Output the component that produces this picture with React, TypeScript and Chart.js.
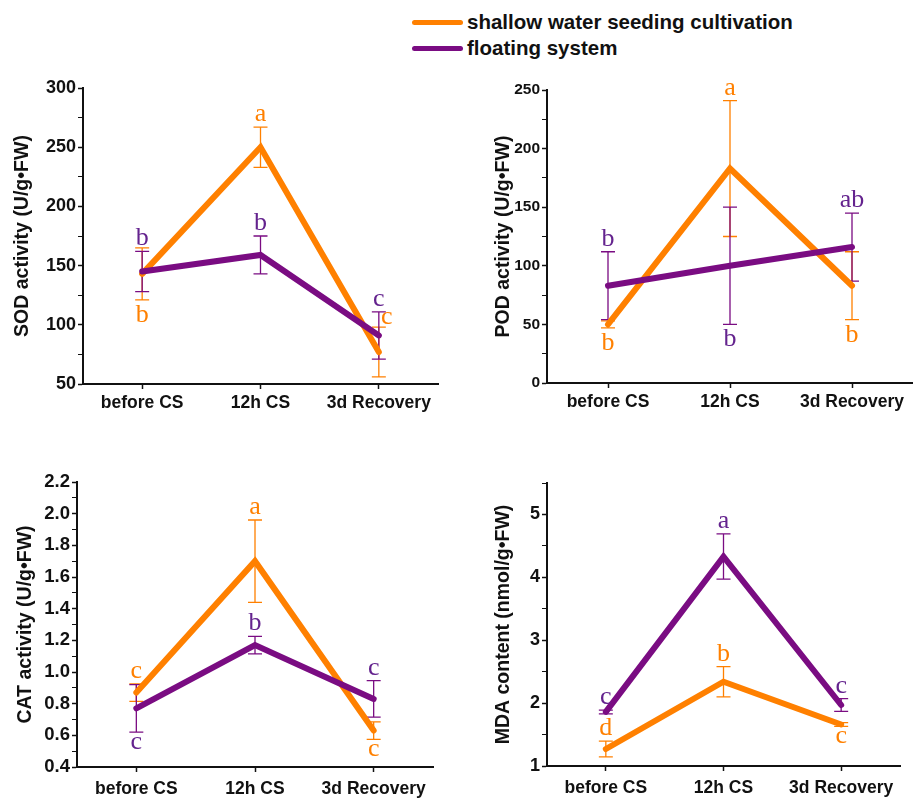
import React, { useEffect, useRef } from 'react';
import { Chart, registerables } from 'chart.js';

Chart.register(...registerables);

// ---- shared categories and series names ----
const categories = ['before CS', '12h CS', '3d Recovery'];
const seriesNames = ['shallow water seeding cultivation', 'floating system'];

// ---- SOD activity (U/g•FW) ----
const sodShallow = [143, 250, 77];
const sodShallowErr = [22, 17, 21];
const sodFloating = [145, 159, 91];
const sodFloatingErr = [17, 16, 20];
const sodShallowLetters = ['b', 'a', 'c'];
const sodFloatingLetters = ['b', 'b', 'c'];
const sodTickLabels = [50, 100, 150, 200, 250, 300];

// ---- POD activity (U/g•FW) ----
const podShallow = [50, 183, 83];
const podShallowErr = [3, 58, 29];
const podFloating = [83, 100, 116];
const podFloatingErr = [29, 50, 29];
const podShallowLetters = ['b', 'a', 'b'];
const podFloatingLetters = ['b', 'b', 'ab'];
const podTickLabels = [0, 50, 100, 150, 200, 250];

// ---- CAT activity (U/g•FW) ----
const catShallow = [0.87, 1.7, 0.63];
const catShallowErr = [0.055, 0.26, 0.055];
const catFloating = [0.77, 1.17, 0.83];
const catFloatingErr = [0.15, 0.055, 0.115];
const catShallowLetters = ['c', 'a', 'c'];
const catFloatingLetters = ['c', 'b', 'c'];
const catTickLabels = [0.4, 0.6, 0.8, 1.0, 1.2, 1.4, 1.6, 1.8, 2.0, 2.2];

// ---- MDA content (nmol/g•FW) ----
const mdaShallow = [1.27, 2.34, 1.66];
const mdaShallowErr = [0.125, 0.24, 0.03];
const mdaFloating = [1.86, 4.33, 1.97];
const mdaFloatingErr = [0.03, 0.36, 0.1];
const mdaShallowLetters = ['d', 'b', 'c'];
const mdaFloatingLetters = ['c', 'a', 'c'];
const mdaTickLabels = [1, 2, 3, 4, 5];

const ORANGE = '#FF8000';
const PURPLE = '#7A0C82';
const PURPLE_TEXT = '#64238E';
const SANS = '"Liberation Sans", Arial, sans-serif';
const SERIF = '"Liberation Serif", "Times New Roman", serif';

// Vertical error bars with caps, drawn beneath the lines.
const errorBarPlugin = {
  id: 'errorBars',
  beforeDatasetsDraw(chart: any) {
    const { ctx } = chart;
    const yScale = chart.scales.y;
    chart.data.datasets.forEach((ds: any, i: number) => {
      const errs: number[] | undefined = ds.errors;
      if (!errs) return;
      const meta = chart.getDatasetMeta(i);
      ctx.save();
      ctx.strokeStyle = ds.errorColor;
      ctx.lineWidth = 1.3;
      meta.data.forEach((pt: any, j: number) => {
        const v = ds.data[j];
        const e = errs[j];
        const x = pt.x;
        const yTop = yScale.getPixelForValue(v + e);
        const yBot = yScale.getPixelForValue(v - e);
        ctx.beginPath();
        ctx.moveTo(x, yTop);
        ctx.lineTo(x, yBot);
        ctx.moveTo(x - 7, yTop);
        ctx.lineTo(x + 7, yTop);
        ctx.moveTo(x - 7, yBot);
        ctx.lineTo(x + 7, yBot);
        ctx.stroke();
      });
      ctx.restore();
    });
  },
};

// Significance letters placed at the ends of the error bars.
const letterPlugin = {
  id: 'sigLetters',
  afterDatasetsDraw(chart: any) {
    const { ctx } = chart;
    const yScale = chart.scales.y;
    chart.data.datasets.forEach((ds: any, i: number) => {
      const letters: string[] | undefined = ds.letters;
      if (!letters) return;
      const sides: string[] = ds.letterSides;
      const meta = chart.getDatasetMeta(i);
      ctx.save();
      ctx.font = `26px ${SERIF}`;
      ctx.fillStyle = ds.letterColor;
      ctx.textAlign = 'center';
      ctx.textBaseline = 'alphabetic';
      meta.data.forEach((pt: any, j: number) => {
        const txt = letters[j];
        const v = ds.data[j];
        const e = ds.errors ? ds.errors[j] : 0;
        const x = pt.x;
        const yTop = yScale.getPixelForValue(v + e);
        const yBot = yScale.getPixelForValue(v - e);
        const side = sides[j];
        if (side === 'below') {
          const m = ctx.measureText(txt);
          ctx.fillText(txt, x, yBot + 5 + m.actualBoundingBoxAscent);
        } else if (side === 'right') {
          ctx.fillText(txt, x + 8, yTop - 3);
        } else {
          ctx.fillText(txt, x, yTop - 6);
        }
      });
      ctx.restore();
    });
  },
};

interface PanelSpec {
  title: string;
  shallow: number[];
  shallowErr: number[];
  shallowLetters: string[];
  shallowSides: string[];
  floating: number[];
  floatingErr: number[];
  floatingLetters: string[];
  floatingSides: string[];
  tickLabels: number[];
  yMax: number;
  minorStep: number;
  decimals: number;
  tickSize: number;
  padTop: number;
  padRight: number;
  yWidth: number;
  xHeight: number;
  titlePad: number;
  xLabelPad: number;
}

function buildConfig(p: PanelSpec): any {
  const isLabeled = (v: number) =>
    p.tickLabels.some((t) => Math.abs(t - v) < 1e-6);
  return {
    type: 'line',
    data: {
      labels: categories,
      datasets: [
        {
          label: seriesNames[0],
          data: p.shallow,
          errors: p.shallowErr,
          letters: p.shallowLetters,
          letterSides: p.shallowSides,
          borderColor: ORANGE,
          backgroundColor: ORANGE,
          errorColor: ORANGE,
          letterColor: ORANGE,
          borderWidth: 6,
          borderCapStyle: 'round',
          borderJoinStyle: 'miter',
          pointRadius: 0,
          tension: 0,
          order: 2,
        },
        {
          label: seriesNames[1],
          data: p.floating,
          errors: p.floatingErr,
          letters: p.floatingLetters,
          letterSides: p.floatingSides,
          borderColor: PURPLE,
          backgroundColor: PURPLE,
          errorColor: PURPLE,
          letterColor: PURPLE_TEXT,
          borderWidth: 6,
          borderCapStyle: 'round',
          borderJoinStyle: 'miter',
          pointRadius: 0,
          tension: 0,
          order: 1,
        },
      ],
    },
    options: {
      responsive: false,
      animation: false,
      devicePixelRatio: 1,
      layout: { padding: { top: p.padTop, right: p.padRight, left: 0, bottom: 0 } },
      plugins: {
        legend: { display: false },
        tooltip: { enabled: false },
      },
      scales: {
        x: {
          type: 'category',
          offset: true,
          afterFit: (s: any) => {
            s.height = p.xHeight;
          },
          border: { display: true, color: '#111', width: 2 },
          grid: {
            display: true,
            drawOnChartArea: false,
            drawTicks: true,
            tickLength: 5,
            tickColor: '#111',
            tickWidth: 1.5,
            offset: false,
          },
          ticks: {
            color: '#111',
            padding: p.xLabelPad,
            maxRotation: 0,
            autoSkip: false,
            font: { family: SANS, size: 17.5, weight: 'bold' },
          },
        },
        y: {
          type: 'linear',
          min: p.tickLabels[0],
          max: p.yMax,
          afterFit: (s: any) => {
            s.width = p.yWidth;
          },
          border: { display: true, color: '#111', width: 2 },
          grid: {
            display: true,
            drawOnChartArea: false,
            drawTicks: true,
            tickLength: 5,
            tickColor: '#111',
            tickWidth: (c: any) => (c.tick && isLabeled(c.tick.value) ? 1.5 : 1),
          },
          ticks: {
            stepSize: p.minorStep,
            color: '#111',
            padding: 2,
            autoSkip: false,
            font: { family: SANS, size: p.tickSize, weight: 'bold' },
            callback: (v: number) => (isLabeled(v) ? v.toFixed(p.decimals) : ''),
          },
          title: {
            display: true,
            text: p.title,
            color: '#111',
            padding: { top: p.titlePad, bottom: 0 },
            font: { family: SANS, size: 19.5, weight: 'bold' },
          },
        },
      },
    },
    plugins: [errorBarPlugin, letterPlugin],
  };
}

const panels: { left: number; top: number; width: number; height: number; spec: PanelSpec }[] = [
  {
    left: 0,
    top: 60,
    width: 460,
    height: 360,
    spec: {
      title: 'SOD activity (U/g•FW)',
      shallow: sodShallow,
      shallowErr: sodShallowErr,
      shallowLetters: sodShallowLetters,
      shallowSides: ['below', 'above', 'right'],
      floating: sodFloating,
      floatingErr: sodFloatingErr,
      floatingLetters: sodFloatingLetters,
      floatingSides: ['above', 'above', 'above'],
      tickLabels: sodTickLabels,
      yMax: 300,
      minorStep: 25,
      decimals: 0,
      tickSize: 18,
      padTop: 28,
      padRight: 22,
      yWidth: 83,
      xHeight: 36,
      titlePad: 11,
      xLabelPad: 4,
    },
  },
  {
    left: 460,
    top: 60,
    width: 453,
    height: 360,
    spec: {
      title: 'POD activity (U/g•FW)',
      shallow: podShallow,
      shallowErr: podShallowErr,
      shallowLetters: podShallowLetters,
      shallowSides: ['below', 'above', 'below'],
      floating: podFloating,
      floatingErr: podFloatingErr,
      floatingLetters: podFloatingLetters,
      floatingSides: ['above', 'below', 'above'],
      tickLabels: podTickLabels,
      yMax: 250,
      minorStep: 25,
      decimals: 0,
      tickSize: 15.5,
      padTop: 30,
      padRight: 0,
      yWidth: 87,
      xHeight: 37,
      titlePad: 32,
      xLabelPad: 4,
    },
  },
  {
    left: 0,
    top: 450,
    width: 460,
    height: 349,
    spec: {
      title: 'CAT activity (U/g•FW)',
      shallow: catShallow,
      shallowErr: catShallowErr,
      shallowLetters: catShallowLetters,
      shallowSides: ['above', 'above', 'below'],
      floating: catFloating,
      floatingErr: catFloatingErr,
      floatingLetters: catFloatingLetters,
      floatingSides: ['below', 'above', 'above'],
      tickLabels: catTickLabels,
      yMax: 2.2,
      minorStep: 0.1,
      decimals: 1,
      tickSize: 18.5,
      padTop: 32,
      padRight: 27,
      yWidth: 77,
      xHeight: 32,
      titlePad: 14,
      xLabelPad: 7,
    },
  },
  {
    left: 460,
    top: 450,
    width: 453,
    height: 349,
    spec: {
      title: 'MDA content (nmol/g•FW)',
      shallow: mdaShallow,
      shallowErr: mdaShallowErr,
      shallowLetters: mdaShallowLetters,
      shallowSides: ['above', 'above', 'below'],
      floating: mdaFloating,
      floatingErr: mdaFloatingErr,
      floatingLetters: mdaFloatingLetters,
      floatingSides: ['above', 'above', 'above'],
      tickLabels: mdaTickLabels,
      yMax: 5.5,
      minorStep: 0.5,
      decimals: 0,
      tickSize: 18,
      padTop: 33,
      padRight: 13,
      yWidth: 87,
      xHeight: 33,
      titlePad: 32,
      xLabelPad: 7,
    },
  },
];

function Panel(props: { left: number; top: number; width: number; height: number; spec: PanelSpec }) {
  const ref = useRef<HTMLCanvasElement>(null);
  useEffect(() => {
    const chart = new Chart(ref.current as HTMLCanvasElement, buildConfig(props.spec));
    return () => chart.destroy();
  }, []);
  return (
    <canvas
      ref={ref}
      width={props.width}
      height={props.height}
      style={{
        position: 'absolute',
        left: props.left,
        top: props.top,
        width: props.width,
        height: props.height,
      }}
    />
  );
}

function LegendRow(props: { color: string; text: string; top: number }) {
  return (
    <div
      style={{
        position: 'absolute',
        left: 412,
        top: props.top,
        height: 24,
        display: 'flex',
        alignItems: 'center',
        whiteSpace: 'nowrap',
      }}
    >
      <div style={{ width: 51, height: 5, borderRadius: 3, background: props.color }} />
      <span
        style={{
          marginLeft: 4,
          fontFamily: SANS,
          fontWeight: 'bold',
          fontSize: 20.5,
          color: '#111',
          lineHeight: '24px',
        }}
      >
        {props.text}
      </span>
    </div>
  );
}

export default function App() {
  return (
    <div
      style={{
        position: 'absolute',
        left: 0,
        top: 0,
        width: 913,
        height: 799,
        background: '#fff',
        overflow: 'hidden',
      }}
    >
      <LegendRow color={ORANGE} text={seriesNames[0]} top={10} />
      <LegendRow color={PURPLE} text={seriesNames[1]} top={36} />
      {panels.map((p, i) => (
        <Panel key={i} {...p} />
      ))}
    </div>
  );
}
